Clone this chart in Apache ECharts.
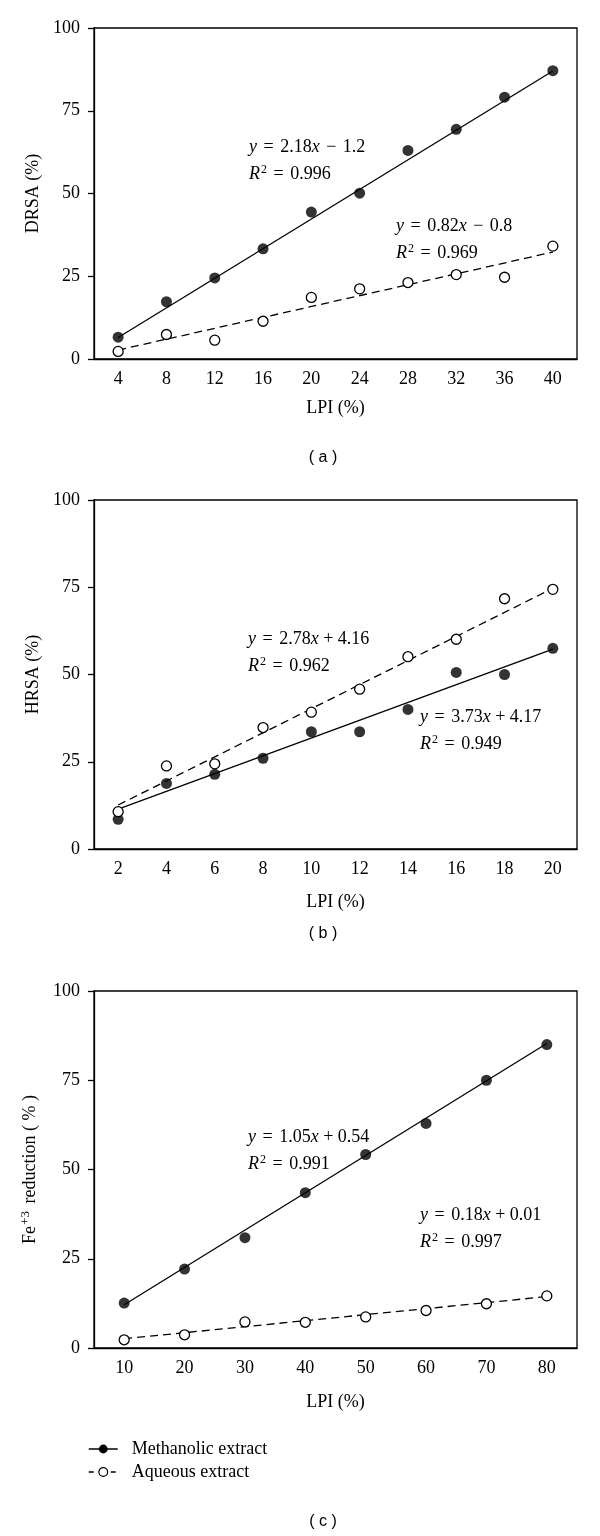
<!DOCTYPE html>
<html>
<head>
<meta charset="utf-8">
<script src="https://cdn.jsdelivr.net/npm/echarts@6/dist/echarts.min.js"></script>
<style>
  html, body { margin: 0; padding: 0; background: #fff; }
  #chart { width: 600px; height: 1536px; }
</style>
</head>
<body>
<div id="chart"></div>
<script>
// (a) DRSA
var lpiA = ['4', '8', '12', '16', '20', '24', '28', '32', '36', '40']
var drsaMeth = [6.6, 17.3, 24.5, 33.3, 44.4, 50.1, 63.0, 69.4, 79.1, 87.1]
var drsaAq = [2.3, 7.4, 5.7, 11.4, 18.6, 21.2, 23.1, 25.5, 24.7, 34.1]
var drsaMethFit = [6.5, 87.0] // fitted line at first / last LPI
var drsaAqFit = [2.7, 32.3]

// (b) HRSA
var lpiB = ['2', '4', '6', '8', '10', '12', '14', '16', '18', '20']
var hrsaMeth = [8.5, 18.8, 21.4, 26.0, 33.6, 33.6, 40.0, 50.6, 50.0, 57.5]
var hrsaAq = [10.7, 23.8, 24.4, 34.8, 39.2, 45.8, 55.1, 60.1, 71.7, 74.4]
var hrsaMethFit = [11.4, 57.3]
var hrsaAqFit = [12.6, 74.7]

// (c) Fe+3 reduction
var lpiC = ['10', '20', '30', '40', '50', '60', '70', '80']
var feMeth = [12.6, 22.1, 30.9, 43.5, 54.2, 62.9, 75.0, 85.0]
var feAq = [2.3, 3.7, 7.3, 7.2, 8.7, 10.5, 12.4, 14.6]
var feMethFit = [12.1, 85.3]
var feAqFit = [2.6, 14.4]

var yMin = 0
var yMax = 100
var yStep = 25

var FONT = 'Liberation Serif'
var SANS = 'Liberation Sans'

var chart = echarts.init(document.getElementById('chart'), null, { renderer: 'canvas' })

var panels = [
  { cats: lpiA, meth: drsaMeth, aq: drsaAq, methFit: drsaMethFit, aqFit: drsaAqFit,
    yName: 'DRSA (%)', top: 28, height: 331, nameGap: 40, tag: '( a )', tagY: 458,
    eq: [
      { x: 249, y: 147, lines: ['{i|y} {o|=} 2.18{i|x} {o|\u2212} 1.2', '{i|R}{s|2} {o|=} 0.996'] },
      { x: 396, y: 226, lines: ['{i|y} {o|=} 0.82{i|x} {o|\u2212} 0.8', '{i|R}{s|2} {o|=} 0.969'] }
    ] },
  { cats: lpiB, meth: hrsaMeth, aq: hrsaAq, methFit: hrsaMethFit, aqFit: hrsaAqFit,
    yName: 'HRSA (%)', top: 500, height: 349, nameGap: 44, tag: '( b )', tagY: 934,
    eq: [
      { x: 248, y: 639, lines: ['{i|y} {o|=} 2.78{i|x} + 4.16', '{i|R}{s|2} {o|=} 0.962'] },
      { x: 420, y: 717, lines: ['{i|y} {o|=} 3.73{i|x} + 4.17', '{i|R}{s|2} {o|=} 0.949'] }
    ] },
  { cats: lpiC, meth: feMeth, aq: feAq, methFit: feMethFit, aqFit: feAqFit,
    yName: 'Fe{f|+3} reduction ( % )', top: 991, height: 357, nameGap: 45, tag: '( c )', tagY: 1522,
    eq: [
      { x: 248, y: 1137, lines: ['{i|y} {o|=} 1.05{i|x} + 0.54', '{i|R}{s|2} {o|=} 0.991'] },
      { x: 420, y: 1215, lines: ['{i|y} {o|=} 0.18{i|x} + 0.01', '{i|R}{s|2} {o|=} 0.997'] }
    ] }
]

var richText = {
  i: { fontStyle: 'italic', fontFamily: FONT, fontSize: 18, color: '#000' },
  o: { fontFamily: FONT, fontSize: 18, color: '#000', padding: [0, 2, 0, 2] },
  s: { fontFamily: FONT, fontSize: 12, color: '#000', padding: [0, 0, 9, 1] },
  f: { fontFamily: FONT, fontSize: 13, color: '#000', padding: [0, 3, 10, 1] }
}

// only the two fitted ends are given, the rest is left empty
function fitData(ends, n) {
  var d = []
  for (var i = 0; i < n; i++) {
    d.push(null)
  }
  d[0] = ends[0]
  d[n - 1] = ends[1]
  return d
}

function pairs(cats, vals) {
  return vals.map(function(v, i) { return [cats[i], v] })
}

var grids = []
var xAxes = []
var yAxes = []
var series = []
var graphics = []
var axisLineStyle = { color: '#000', width: 1.3 }

panels.forEach(function(p, k) {
  grids.push({
    left: 94, width: 483, top: p.top, height: p.height,
    show: true, borderColor: '#000', borderWidth: 1.3, backgroundColor: 'transparent'
  })
  xAxes.push({
    type: 'category',
    gridIndex: k,
    data: p.cats,
    boundaryGap: true,
    axisLine: { lineStyle: axisLineStyle },
    axisTick: { length: 5, lineStyle: axisLineStyle },
    axisLabel: { interval: 0, color: '#000', fontSize: 18, fontFamily: FONT, margin: 11 },
    name: 'LPI (%)',
    nameLocation: 'middle',
    nameGap: p.nameGap,
    nameTextStyle: { color: '#000', fontSize: 18, fontFamily: FONT }
  })
  yAxes.push({
    type: 'value',
    gridIndex: k,
    min: yMin,
    max: yMax,
    interval: yStep,
    axisLine: { show: true, lineStyle: axisLineStyle },
    axisTick: { show: true, length: 6, lineStyle: axisLineStyle },
    splitLine: { show: false },
    axisLabel: { color: '#000', fontSize: 18, fontFamily: FONT, margin: 14 },
    name: p.yName,
    nameLocation: 'middle',
    nameRotate: 90,
    nameGap: 52,
    nameTextStyle: { color: '#000', fontSize: 18, fontFamily: FONT, rich: richText }
  })

  var n = p.cats.length
  series.push({
    name: 'Methanolic extract',
    type: 'line',
    xAxisIndex: k,
    yAxisIndex: k,
    data: fitData(p.methFit, n),
    connectNulls: true,
    showSymbol: false,
    symbol: 'circle',
    silent: true,
    lineStyle: { color: '#000', width: 1.3 },
    itemStyle: { color: '#000' },
    z: 2
  })
  series.push({
    name: 'Aqueous extract',
    type: 'line',
    xAxisIndex: k,
    yAxisIndex: k,
    data: fitData(p.aqFit, n),
    connectNulls: true,
    showSymbol: false,
    symbol: 'circle',
    silent: true,
    lineStyle: { color: '#000', width: 1.3, type: [8, 5] },
    itemStyle: { color: '#fff', borderColor: '#000', borderWidth: 1.2 },
    z: 2
  })
  series.push({
    name: 'Methanolic extract',
    type: 'scatter',
    xAxisIndex: k,
    yAxisIndex: k,
    data: pairs(p.cats, p.meth),
    symbol: 'circle',
    symbolSize: 11,
    itemStyle: { color: '#000' },
    z: 3
  })
  series.push({
    name: 'Aqueous extract',
    type: 'scatter',
    xAxisIndex: k,
    yAxisIndex: k,
    data: pairs(p.cats, p.aq),
    symbol: 'circle',
    symbolSize: 10,
    itemStyle: { color: '#fff', borderColor: '#000', borderWidth: 1.3, opacity: 1 },
    z: 3
  })

  p.eq.forEach(function(e) {
    e.lines.forEach(function(t, j) {
      graphics.push({
        type: 'text',
        x: e.x,
        y: e.y + j * 27.5,
        style: {
          text: t,
          rich: richText,
          fontFamily: FONT,
          fontSize: 18,
          fill: '#000',
          align: 'left',
          verticalAlign: 'middle'
        }
      })
    })
  })

  graphics.push({
    type: 'text',
    x: 323,
    y: p.tagY,
    style: {
      text: p.tag,
      fontFamily: SANS,
      fontSize: 16,
      fill: '#000',
      align: 'center',
      verticalAlign: 'middle'
    }
  })
})

chart.setOption({
  backgroundColor: '#fff',
  animation: false,
  grid: grids,
  xAxis: xAxes,
  yAxis: yAxes,
  series: series,
  graphic: graphics,
  legend: {
    orient: 'vertical',
    left: 88,
    top: 1440,
    padding: 0,
    itemWidth: 29,
    itemHeight: 11,
    itemGap: 5,
    selectedMode: false,
    textStyle: { color: '#000', fontSize: 18, fontFamily: FONT, padding: [0, 0, 0, 9] },
    data: [
      {
        name: 'Methanolic extract',
        itemStyle: { color: '#000', borderWidth: 0 },
        lineStyle: { color: '#000', width: 1.5, type: 'solid' }
      },
      {
        name: 'Aqueous extract',
        itemStyle: { color: '#fff', borderColor: '#000', borderWidth: 1.2 },
        lineStyle: { color: '#000', width: 1.5, type: [5, 6] }
      }
    ]
  }
})
</script>
</body>
</html>
